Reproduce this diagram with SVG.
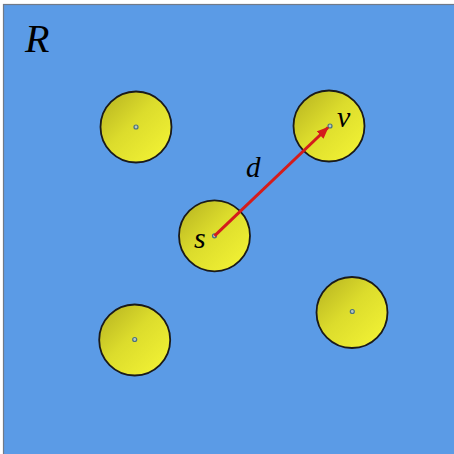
<svg xmlns="http://www.w3.org/2000/svg" width="454" height="454" viewBox="0 0 454 454">
<style>
.node{stroke:#1a1a1a;stroke-width:1.8;fill:url(#yg)}
.dot{fill:#b8c8c0;stroke:#4a7080;stroke-width:1.2}
.lbl{font-family:"Liberation Serif",serif;font-style:italic;fill:#000}
</style>
<defs>
<linearGradient id="yg" x1="0" y1="0" x2="1" y2="1">
<stop offset="0" stop-color="#b4b020"/>
<stop offset="0.45" stop-color="#dcdc2c"/>
<stop offset="1" stop-color="#f6f636"/>
</linearGradient>
<marker id="ah" markerWidth="12" markerHeight="10" refX="11" refY="5" orient="auto" markerUnits="userSpaceOnUse">
<path d="M0,0 L12,5 L0,10 z" fill="#d41c1c"/>
</marker>
</defs>
<rect x="0" y="0" width="454" height="454" fill="#fff"/>
<rect x="3.5" y="4.5" width="452" height="452" fill="#5b9be6" stroke="#707a88" stroke-width="1.2"/>
<text class="lbl" x="25" y="52" font-size="40">R</text>
<g id="n1"><circle class="node" cx="136" cy="127" r="35.5"/><circle class="dot" cx="136" cy="127" r="2"/></g>
<g id="v"><circle class="node" cx="329" cy="126" r="35.5"/><circle class="dot" cx="330" cy="126" r="2"/><text class="lbl" x="337" y="127" font-size="30">v</text></g>
<g id="s"><circle class="node" cx="214.5" cy="235.8" r="35.5"/><circle class="dot" cx="214.5" cy="235.8" r="2"/><text class="lbl" x="194" y="248" font-size="30">s</text></g>
<g id="n4"><circle class="node" cx="134.7" cy="340" r="35.5"/><circle class="dot" cx="134.7" cy="339.5" r="2"/></g>
<g id="n5"><circle class="node" cx="352" cy="312.5" r="35.5"/><circle class="dot" cx="352.3" cy="311.5" r="2"/></g>
<g id="connectors">
<line x1="214.5" y1="235.8" x2="328" y2="127.5" stroke="#d41c1c" stroke-width="3" marker-end="url(#ah)"/>
<text class="lbl" x="246" y="177" font-size="29">d</text>
</g>
</svg>
